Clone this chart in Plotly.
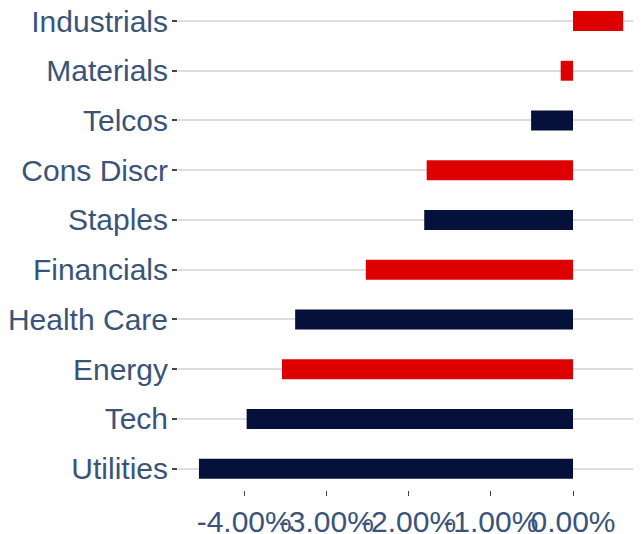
import plotly.graph_objects as go

# Data (bottom to top)
categories = ["Utilities", "Tech", "Energy", "Health Care", "Financials",
              "Staples", "Cons Discr", "Telcos", "Materials", "Industrials"]
values = [-4.55, -3.97, -3.54, -3.38, -2.52, -1.81, -1.78, -0.51, -0.15, 0.61]
groups = ["navy", "navy", "red", "navy", "red", "navy", "red", "navy", "red", "red"]
x_tick_values = [-4, -3, -2, -1, 0]
x_tick_labels = ["-4.00%", "-3.00%", "-2.00%", "-1.00%", "0.00%"]

palette = {"red": "#DE0000", "navy": "#05103B"}
colors = [palette[g] for g in groups]

fig = go.Figure(go.Bar(
    y=categories,
    x=values,
    orientation="h",
    marker=dict(color=colors, line=dict(width=0)),
    width=0.4,
))

font_color = "#3a5479"
fig.update_layout(
    width=633, height=526,
    margin=dict(l=170, r=0, t=0, b=44, autoexpand=False),
    paper_bgcolor="white", plot_bgcolor="white",
    showlegend=False,
    font=dict(family="Arial, Liberation Sans, sans-serif", size=30, color=font_color),
)
fig.update_xaxes(
    range=[-4.805, 0.827],
    tickmode="array",
    tickvals=x_tick_values,
    ticktext=x_tick_labels,
    tickangle=0,
    showgrid=False, zeroline=False, showline=False,
    ticks="outside", ticklen=5, tickwidth=1, tickcolor="#444",
    tickfont=dict(size=30, color=font_color),
    automargin=False,
)
fig.update_yaxes(
    type="category",
    categoryorder="array", categoryarray=categories,
    range=[-0.4286, 9.2616],
    showgrid=True, gridcolor="#dddddd", gridwidth=2,
    zeroline=False, showline=False,
    ticks="outside", ticklen=5, tickwidth=2, tickcolor="#444",
    tickfont=dict(size=30, color=font_color),
    ticklabelstandoff=-2,
    automargin=False,
)

fig.write_html("out.html")
